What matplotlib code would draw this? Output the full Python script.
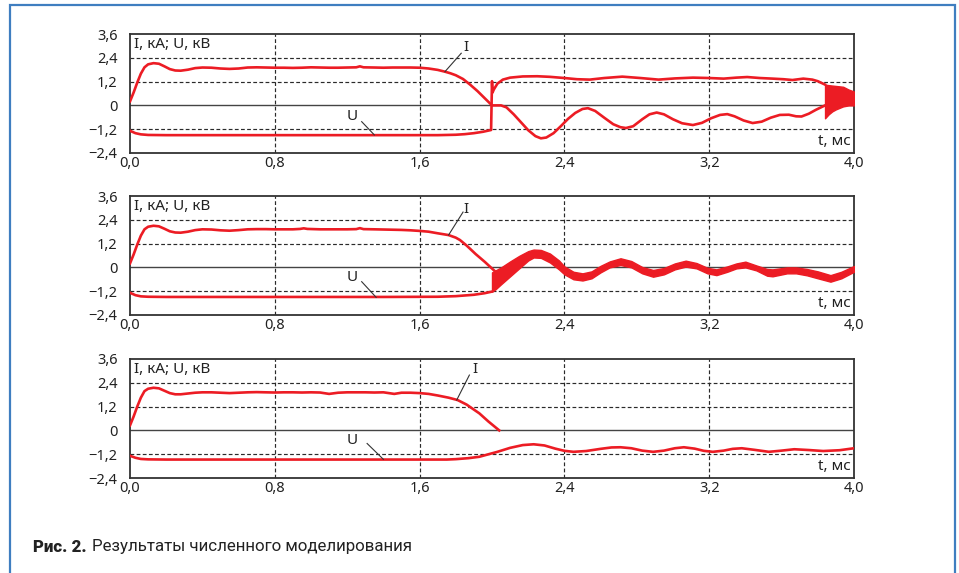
import matplotlib
matplotlib.use('Agg')
import matplotlib.pyplot as plt
from matplotlib.patches import Rectangle

plt.rcParams['font.family'] = ['Noto Sans', 'DejaVu Sans']

# ---------------- data ----------------
x_ticks = [0.0, 0.8, 1.6, 2.4, 3.2, 4.0]
x_tick_labels = ['0,0', '0,8', '1,6', '2,4', '3,2', '4,0']
y_ticks = [-2.4, -1.2, 0.0, 1.2, 2.4, 3.6]
y_tick_labels = ['\u22122,4', '\u22121,2', '0', '1,2', '2,4', '3,6']

# Panel 1
p1_I_t = [0.00, 0.02, 0.04, 0.06, 0.08, 0.10, 0.13, 0.16, 0.19, 0.22, 0.25, 0.28, 0.32, 0.36,
          0.40, 0.45, 0.50, 0.55, 0.60, 0.65, 0.70, 0.75, 0.80, 0.85, 0.90, 0.95, 1.00, 1.05,
          1.10, 1.15, 1.20, 1.25, 1.27, 1.29, 1.35, 1.40, 1.45, 1.50, 1.55, 1.60, 1.65, 1.70,
          1.74, 1.77, 1.80, 1.84, 1.88, 1.92, 1.96, 2.00, 2.05, 2.08, 2.12, 2.16, 2.20, 2.24, 2.27,
          2.30, 2.34, 2.38, 2.42, 2.46, 2.50, 2.53, 2.57, 2.62, 2.67, 2.71, 2.74, 2.78, 2.83,
          2.87, 2.91, 2.95, 3.00, 3.05, 3.11, 3.16, 3.21, 3.26, 3.30, 3.34, 3.39, 3.44, 3.49,
          3.54, 3.59, 3.64, 3.68, 3.71, 3.75, 3.79, 3.84]
p1_I_v = [0.20, 0.65, 1.15, 1.60, 1.92, 2.07, 2.13, 2.10, 1.97, 1.83, 1.76, 1.75, 1.80, 1.88,
          1.91, 1.90, 1.86, 1.84, 1.86, 1.91, 1.92, 1.91, 1.90, 1.90, 1.89, 1.90, 1.92, 1.91,
          1.90, 1.90, 1.91, 1.92, 1.97, 1.92, 1.91, 1.90, 1.91, 1.91, 1.91, 1.90, 1.86, 1.79,
          1.70, 1.62, 1.52, 1.33, 1.04, 0.72, 0.36, 0.00, 0.00, -0.10, -0.45, -0.85, -1.25, -1.55, -1.66,
          -1.62, -1.40, -1.05, -0.68, -0.38, -0.18, -0.14, -0.28, -0.62, -0.95, -1.10, -1.14, -1.05, -0.70,
          -0.45, -0.36, -0.45, -0.70, -0.90, -0.99, -0.88, -0.65, -0.48, -0.44, -0.55, -0.76, -0.89, -0.82,
          -0.62, -0.48, -0.47, -0.55, -0.56, -0.42, -0.22, 0.00]
p1_U_t = [0.00, 0.03, 0.06, 0.10, 0.20, 0.60, 1.00, 1.40, 1.70, 1.75, 1.80, 1.85, 1.90, 1.95,
          1.995, 2.000, 2.003, 2.01, 2.03, 2.06, 2.10, 2.17, 2.25, 2.32, 2.40, 2.47, 2.54, 2.62,
          2.72, 2.82, 2.92, 3.01, 3.11, 3.20, 3.28, 3.35, 3.41, 3.48, 3.55, 3.61, 3.66, 3.72,
          3.77, 3.80, 3.84]
p1_U_v = [-1.28, -1.40, -1.46, -1.49, -1.50, -1.50, -1.50, -1.50, -1.50, -1.49, -1.48, -1.45, -1.40, -1.33,
          -1.24, 1.22, 0.65, 0.80, 1.10, 1.30, 1.40, 1.46, 1.47, 1.44, 1.38, 1.32, 1.30, 1.38,
          1.45, 1.38, 1.30, 1.36, 1.40, 1.38, 1.35, 1.40, 1.43, 1.38, 1.35, 1.32, 1.28, 1.35,
          1.30, 1.22, 1.05]
p1_band_t = [3.84, 3.86, 3.88, 3.90, 3.94, 3.97, 4.00]
p1_band_hi = [1.05, 1.02, 1.00, 0.98, 0.94, 0.80, 0.70]
p1_band_lo = [-0.65, -0.45, -0.30, -0.20, -0.05, 0.00, 0.00]

# Panel 2
p2_I_t = [0.00, 0.02, 0.04, 0.06, 0.08, 0.10, 0.13, 0.16, 0.19, 0.22, 0.25, 0.28, 0.32, 0.36,
          0.40, 0.45, 0.50, 0.55, 0.60, 0.65, 0.70, 0.75, 0.80, 0.85, 0.90, 0.94, 0.96, 0.98,
          1.05, 1.10, 1.15, 1.20, 1.25, 1.27, 1.29, 1.35, 1.40, 1.45, 1.50, 1.55, 1.60, 1.65,
          1.70, 1.76, 1.80, 1.823, 1.86, 1.91, 1.96, 2.017]
p2_I_v = [0.20, 0.65, 1.15, 1.60, 1.92, 2.05, 2.10, 2.07, 1.95, 1.82, 1.76, 1.75, 1.80, 1.88,
          1.92, 1.91, 1.87, 1.85, 1.88, 1.92, 1.93, 1.93, 1.92, 1.92, 1.92, 1.94, 1.97, 1.94,
          1.92, 1.92, 1.92, 1.92, 1.93, 1.98, 1.93, 1.92, 1.91, 1.90, 1.89, 1.87, 1.84, 1.80,
          1.72, 1.63, 1.50, 1.38, 1.10, 0.67, 0.28, -0.20]
p2_U_t = [0.00, 0.03, 0.06, 0.10, 0.20, 0.60, 1.00, 1.40, 1.70, 1.80, 1.90, 1.96, 2.00]
p2_U_v = [-1.28, -1.40, -1.46, -1.48, -1.49, -1.49, -1.49, -1.49, -1.48, -1.45, -1.38, -1.30, -1.22]
p2_band_t = [2.00, 2.02, 2.05, 2.10, 2.15, 2.20, 2.23, 2.27, 2.32, 2.37, 2.40, 2.45, 2.50,
             2.55, 2.60, 2.65, 2.71, 2.77, 2.83, 2.89, 2.95, 3.01, 3.07, 3.13, 3.19, 3.24,
             3.30, 3.35, 3.40, 3.46, 3.52, 3.55, 3.63, 3.68, 3.74, 3.80, 3.87, 3.93, 4.00]
p2_band_lo = [-1.22, -1.10, -0.85, -0.45, -0.05, 0.35, 0.50, 0.48, 0.25, -0.10, -0.35, -0.60, -0.66,
              -0.55, -0.25, 0.00, 0.12, 0.00, -0.30, -0.47, -0.35, -0.10, 0.04, -0.05, -0.30, -0.39,
              -0.22, -0.05, 0.00, -0.15, -0.42, -0.45, -0.30, -0.30, -0.40, -0.55, -0.72, -0.55, -0.22]
p2_band_hi = [-0.25, -0.15, 0.00, 0.30, 0.58, 0.82, 0.90, 0.88, 0.70, 0.35, 0.05, -0.22, -0.30,
              -0.20, 0.08, 0.30, 0.46, 0.32, 0.02, -0.13, -0.03, 0.20, 0.34, 0.22, -0.02, -0.10,
              0.05, 0.20, 0.29, 0.10, -0.08, -0.10, 0.00, 0.00, -0.08, -0.20, -0.39, -0.22, 0.07]

# Panel 3
p3_I_t = [0.00, 0.02, 0.04, 0.06, 0.08, 0.10, 0.13, 0.16, 0.19, 0.22, 0.25, 0.28, 0.32, 0.36,
          0.40, 0.45, 0.50, 0.55, 0.60, 0.65, 0.70, 0.75, 0.80, 0.85, 0.90, 0.95, 1.00, 1.05,
          1.10, 1.15, 1.20, 1.25, 1.30, 1.35, 1.40, 1.46, 1.50, 1.55, 1.60, 1.65, 1.70, 1.76,
          1.81, 1.86, 1.93, 1.98, 2.04]
p3_I_v = [0.25, 0.70, 1.20, 1.65, 1.98, 2.10, 2.15, 2.12, 2.00, 1.88, 1.82, 1.82, 1.86, 1.90,
          1.92, 1.92, 1.90, 1.88, 1.90, 1.92, 1.93, 1.92, 1.91, 1.92, 1.92, 1.91, 1.92, 1.91,
          1.84, 1.90, 1.92, 1.92, 1.92, 1.91, 1.92, 1.84, 1.90, 1.90, 1.88, 1.84, 1.76, 1.65,
          1.53, 1.30, 0.86, 0.45, 0.00]
p3_U_t = [0.00, 0.03, 0.06, 0.10, 0.20, 0.60, 1.00, 1.40, 1.75, 1.80, 1.87, 1.93, 2.03, 2.10,
          2.17, 2.23, 2.29, 2.35, 2.40, 2.45, 2.52, 2.60, 2.66, 2.71, 2.77, 2.83, 2.89, 2.95,
          3.01, 3.06, 3.12, 3.17, 3.22, 3.28, 3.33, 3.38, 3.45, 3.53, 3.60, 3.67, 3.75, 3.83,
          3.92, 4.00]
p3_U_v = [-1.28, -1.38, -1.44, -1.46, -1.47, -1.47, -1.47, -1.47, -1.47, -1.45, -1.40, -1.33, -1.08, -0.88,
          -0.74, -0.70, -0.76, -0.92, -1.03, -1.08, -1.04, -0.93, -0.86, -0.85, -0.90, -1.02, -1.08, -1.02,
          -0.90, -0.85, -0.92, -1.03, -1.08, -1.02, -0.93, -0.90, -0.98, -1.08, -1.02, -0.95, -0.99, -1.04,
          -1.00, -0.90]

# ---------------- drawing ----------------
RED = '#ec1c24'
GRID = '#2a2a2a'
W, H = 959, 573

fig = plt.figure(figsize=(W / 100, H / 100), dpi=100)
fig.patch.set_facecolor('white')

# blue frame
fig.patches.append(Rectangle((10 / W, -0.05), 945 / W, 1.05 - 5 / H, transform=fig.transFigure,
                             fill=False, edgecolor='#3f7ec0', lw=1.6, zorder=0))

panel_tops = [34, 196, 359]
panel_h = 119

panels = [
    dict(I=(p1_I_t, p1_I_v), U=(p1_U_t, p1_U_v), band=(p1_band_t, p1_band_lo, p1_band_hi),
         Ilab=(1.855, 2.94), Ilead=((1.83, 2.63), (1.74, 1.70)),
         Ulab=(1.23, -0.55), Ulead=((1.28, -0.82), (1.35, -1.49))),
    dict(I=(p2_I_t, p2_I_v), U=(p2_U_t, p2_U_v), band=(p2_band_t, p2_band_lo, p2_band_hi),
         Ilab=(1.855, 2.94), Ilead=((1.84, 2.79), (1.76, 1.63)),
         Ulab=(1.23, -0.51), Ulead=((1.28, -0.72), (1.36, -1.51))),
    dict(I=(p3_I_t, p3_I_v), U=(p3_U_t, p3_U_v), band=None,
         Ilab=(1.906, 3.05), Ilead=((1.875, 2.79), (1.805, 1.53)),
         Ulab=(1.225, -0.53), Ulead=((1.31, -0.66), (1.40, -1.46))),
]

FS = 10.5
for top, p in zip(panel_tops, panels):
    ax = fig.add_axes([130 / W, 1 - (top + panel_h) / H, 724 / W, panel_h / H])
    ax.set_xlim(0, 4.0)
    ax.set_ylim(-2.4, 3.6)
    ax.set_xticks(x_ticks)
    ax.set_xticklabels(x_tick_labels)
    ax.set_yticks(y_ticks)
    ax.set_yticklabels(y_tick_labels)
    ax.tick_params(length=0, labelsize=FS, colors='#222222')
    ax.tick_params(axis='y', pad=9)
    ax.tick_params(axis='x', pad=2)
    for s in ax.spines.values():
        s.set_color('#333333')
        s.set_linewidth(1.3)
    dash = (0, (3.2, 2.0))
    for yv in (1.2, 2.4, -1.2):
        ax.axhline(yv, color=GRID, lw=0.85, ls=dash, zorder=1)
    for xv in (0.8, 1.6, 2.4, 3.2):
        ax.axvline(xv, color=GRID, lw=0.85, ls=dash, zorder=1)
    ax.axhline(0, color='#444444', lw=1.0, zorder=1)

    ax.plot(*p['U'], color=RED, lw=1.9, zorder=3, solid_joinstyle='round')
    ax.plot(*p['I'], color=RED, lw=1.9, zorder=3, solid_joinstyle='round')
    if p['band'] is not None:
        bt, blo, bhi = p['band']
        ax.fill_between(bt, blo, bhi, color=RED, lw=1.0, edgecolor=RED, zorder=3)

    ax.text(0.006, 0.975, 'I, кА; U, кВ', transform=ax.transAxes, ha='left', va='top',
            fontsize=FS + 0.5, color='#222222')
    ax.text(0.995, 0.03, 't, мс', transform=ax.transAxes, ha='right', va='bottom',
            fontsize=FS + 0.5, color='#222222')

    ax.text(*p['Ilab'], 'I', ha='center', va='center', fontsize=FS + 0.5, color='#222222')
    ax.text(*p['Ulab'], 'U', ha='center', va='center', fontsize=FS + 0.5, color='#222222')
    (a, b) = p['Ilead']
    ax.plot([a[0], b[0]], [a[1], b[1]], color='#333333', lw=0.8, zorder=4)
    (a, b) = p['Ulead']
    ax.plot([a[0], b[0]], [a[1], b[1]], color='#333333', lw=0.8, zorder=4)

# caption
cap_y = 1 - 551.5 / H
t1 = fig.text(33 / W, cap_y, 'Рис. 2.', fontsize=12.2, fontweight='heavy',
              family=['Roboto', 'DejaVu Sans'], va='baseline', ha='left', color='#222222')
fig.canvas.draw()
bb = t1.get_window_extent()
fig.text((bb.x1 + 5) / W, cap_y, 'Результаты численного моделирования', fontsize=12.2,
         family=['Roboto', 'DejaVu Sans'], va='baseline', ha='left', color='#222222')

fig.savefig('out.png', dpi=100, facecolor='white')
